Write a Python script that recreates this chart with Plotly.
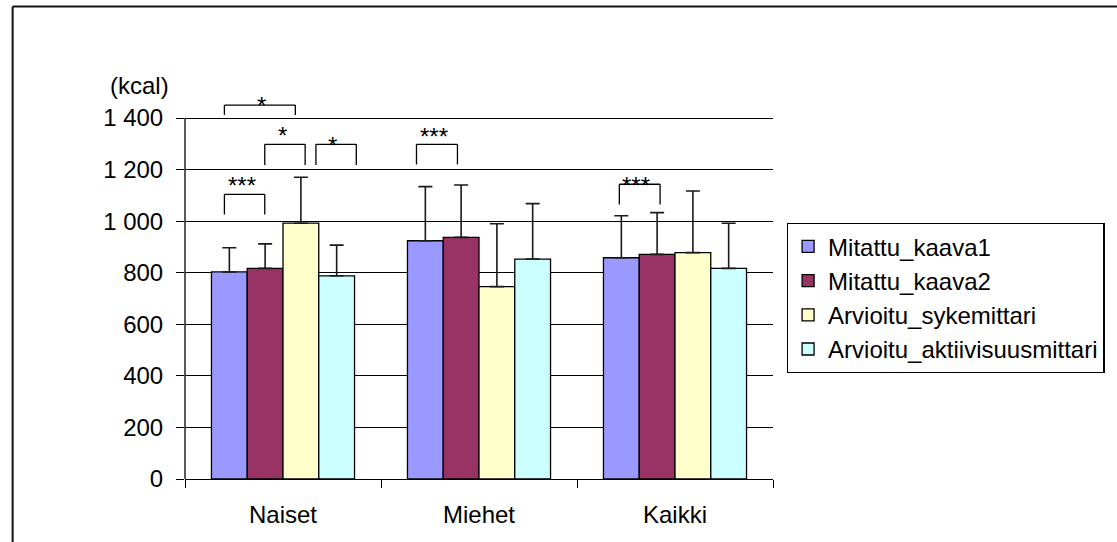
import plotly.graph_objects as go

# Energy expenditure by group (kcal): mean values and +SD
groups = ["Naiset", "Miehet", "Kaikki"]
series_names = ["Mitattu_kaava1", "Mitattu_kaava2", "Arvioitu_sykemittari", "Arvioitu_aktiivisuusmittari"]

kaava1 = [803, 924, 858]
kaava2 = [817, 937, 871]
sykemittari = [992, 746, 878]
aktiivisuusmittari = [788, 853, 817]

kaava1_sd = [94, 210, 163]
kaava2_sd = [95, 203, 162]
sykemittari_sd = [178, 244, 239]
aktiivisuusmittari_sd = [119, 215, 175]

y_ticks = [0, 200, 400, 600, 800, 1000, 1200, 1400]
y_tick_labels = ["0", "200", "400", "600", "800", "1 000", "1 200", "1 400"]

# Significance brackets (x in category units, y in kcal)
bracket_x0 = [-0.299, -0.299, -0.093, 0.168, 0.681, 1.716]
bracket_x1 = [0.063, -0.093, 0.113, 0.374, 0.890, 1.924]
bracket_top = [1450, 1104, 1298, 1298, 1298, 1143]
bracket_foot = [1412, 1026, 1218, 1218, 1220, 1065]
bracket_text = ["*", "***", "*", "*", "***", "***"]
bracket_text_x = [-0.108, -0.209, -0.003, 0.254, 0.771, 1.802]
bracket_text_y = [1466, 1156, 1350, 1311, 1348, 1157]

colors = ["#9999FF", "#993366", "#FFFFCC", "#CCFFFF"]
values = [kaava1, kaava2, sykemittari, aktiivisuusmittari]
errors = [kaava1_sd, kaava2_sd, sykemittari_sd, aktiivisuusmittari_sd]

FONT = "Liberation Sans, Arial, sans-serif"
FS = 24

W, H = 1117, 542
left, right_px, bottom_px, top_px = 185, 782, 479, 79
plot_h = bottom_px - top_px
px_per_unit = (479 - 118) / 1400.0
y_top = plot_h / px_per_unit

fig = go.Figure()
for i, (name, vals, err, col) in enumerate(zip(series_names, values, errors, colors)):
    fig.add_trace(go.Bar(
        name=name,
        x=groups,
        y=vals,
        marker=dict(color=col, line=dict(color="#000000", width=1.3)),
        error_y=dict(type="data", symmetric=False, array=err, arrayminus=[0] * len(err),
                     color="#1a1a1a", thickness=1.6, width=7),
        legendgroup=f"g{i}",
    ))

shapes = []
# y-axis line from 0 to 1400
shapes.append(dict(type="line", xref="paper", yref="y", x0=0, x1=0, y0=0, y1=1400,
                   line=dict(color="#000000", width=1.3)))
# brackets
for x0, x1, yt, yf in zip(bracket_x0, bracket_x1, bracket_top, bracket_foot):
    for (a, b, c, d) in [(x0, x0, yf, yt), (x0, x1, yt, yt), (x1, x1, yt, yf)]:
        shapes.append(dict(type="line", xref="x", yref="y", x0=a, x1=b, y0=c, y1=d,
                           line=dict(color="#000000", width=1.3)))
# chart frame: top and left edges
pw = right_px - left
fx = (10 - left) / pw
fy = (bottom_px - 6.5) / plot_h
shapes.append(dict(type="line", xref="paper", yref="paper", x0=fx, x1=(W + 20 - left) / pw,
                   y0=fy, y1=fy, line=dict(color="#111111", width=2)))
shapes.append(dict(type="line", xref="paper", yref="paper", x0=fx, x1=fx,
                   y0=fy, y1=-(H - bottom_px + 20) / plot_h, line=dict(color="#111111", width=2)))

annotations = []
for t, tx, ty in zip(bracket_text, bracket_text_x, bracket_text_y):
    annotations.append(dict(x=tx, y=ty, xref="x", yref="y", text=t, showarrow=False,
                            font=dict(family=FONT, size=FS, color="#000000"),
                            xanchor="center", yanchor="middle", yshift=-5))
annotations.append(dict(x=(139 - left) / pw, y=(bottom_px - 86) / plot_h, xref="paper", yref="paper",
                        text="(kcal)", showarrow=False, xanchor="center", yanchor="middle",
                        font=dict(family=FONT, size=FS, color="#000000")))

fig.update_layout(
    width=W, height=H, autosize=False,
    margin=dict(l=left, r=W - right_px, t=top_px, b=H - bottom_px, pad=0),
    paper_bgcolor="#ffffff", plot_bgcolor="#ffffff",
    barmode="group", bargap=0.27, bargroupgap=0,
    font=dict(family=FONT, size=FS, color="#000000"),
    showlegend=True,
    legend=dict(x=(796 - left) / pw, y=(bottom_px - 223) / plot_h, xanchor="left", yanchor="top",
                bordercolor="#000000", borderwidth=1.3, bgcolor="#ffffff",
                font=dict(family=FONT, size=FS, color="#000000"),
                tracegroupgap=5, traceorder="normal", itemwidth=30),
    xaxis=dict(type="category", range=[-0.5, 2.5], showgrid=False, showline=True,
               linecolor="#000000", linewidth=1.3, ticks="outside", tickson="boundaries",
               ticklen=8, tickwidth=1.3, tickcolor="#000000", ticklabelstandoff=14,
               tickfont=dict(family=FONT, size=FS, color="#000000"), zeroline=False),
    yaxis=dict(range=[0, y_top], tickmode="array", tickvals=y_ticks, ticktext=y_tick_labels,
               showgrid=True, gridcolor="#000000", gridwidth=1.3, showline=False,
               ticks="outside", ticklen=8, tickwidth=1.3, tickcolor="#000000",
               ticklabelstandoff=8, zeroline=False,
               tickfont=dict(family=FONT, size=FS, color="#000000")),
    shapes=shapes,
    annotations=annotations,
)

fig.write_html("out.html")
